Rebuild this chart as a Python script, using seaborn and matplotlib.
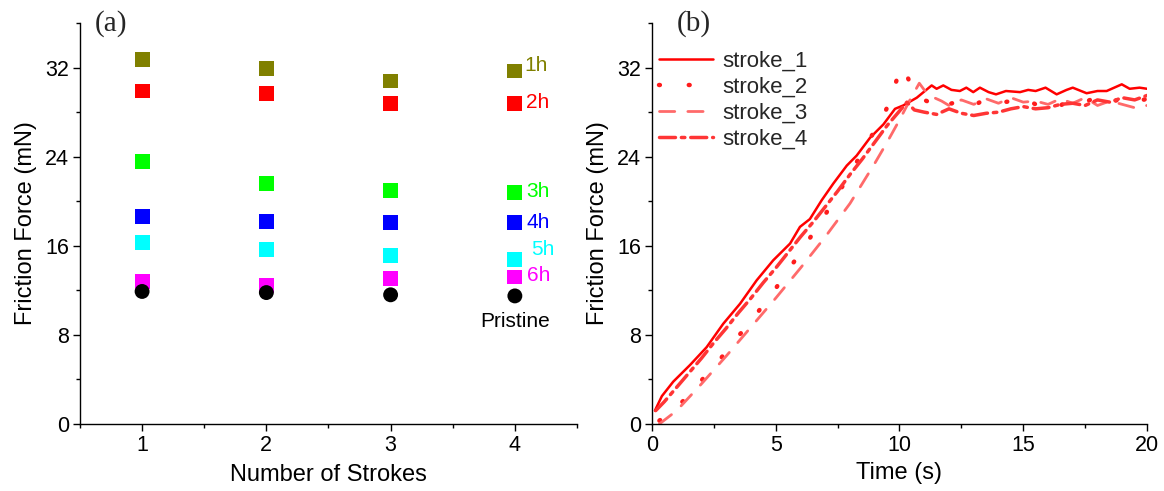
import matplotlib
matplotlib.use("Agg")
import matplotlib.pyplot as plt
from matplotlib.ticker import MultipleLocator
import seaborn as sns
import pandas as pd

# ---------------- Panel (a) data ----------------
strokes = [1, 2, 3, 4]
series_names = ["1h", "2h", "3h", "4h", "5h", "6h", "Pristine"]
force_1h = [32.7, 31.9, 30.8, 31.7]
force_2h = [29.9, 29.7, 28.8, 28.8]
force_3h = [23.6, 21.6, 21.0, 20.8]
force_4h = [18.6, 18.2, 18.1, 18.1]
force_5h = [16.3, 15.7, 15.1, 14.8]
force_6h = [12.8, 12.4, 13.1, 13.2]
force_pristine = [11.9, 11.8, 11.6, 11.5]
force_err = [0.25, 0.25, 0.25, 0.25]
series_colors = ["#808000", "#ff0000", "#00ff00", "#0000ff", "#00ffff", "#ff00ff", "#000000"]

# ---------------- Panel (b) data ----------------
t1 = [0.12, 0.4, 0.86, 1.54, 2.21, 2.88, 3.56, 4.23, 4.9, 5.58, 5.98, 6.38, 6.86, 7.33, 7.87, 8.27,
      8.81, 9.35, 9.82, 10.15, 10.7, 11.3, 11.5, 11.77, 12.1, 12.44, 12.7, 12.98, 13.25, 13.6, 13.9,
      14.3, 14.87, 15.2, 15.5, 15.9, 16.35, 16.75, 17.0, 17.56, 18.0, 18.37, 18.98, 19.3, 19.7, 20.0]
v1 = [1.2, 2.5, 3.8, 5.3, 6.9, 9.0, 10.8, 12.9, 14.7, 16.2, 17.7, 18.4, 20.1, 21.6, 23.2, 24.1,
      25.7, 26.9, 28.3, 28.6, 29.3, 30.4, 30.1, 30.4, 30.0, 29.9, 30.2, 29.8, 30.2, 29.8, 29.6,
      29.9, 29.8, 30.0, 29.9, 30.2, 29.6, 30.0, 30.2, 29.7, 29.9, 29.9, 30.5, 30.1, 30.2, 30.1]
t2 = [0.3, 0.93, 1.6, 2.21, 2.82, 3.42, 4.03, 4.5, 5.04, 5.5, 6.0, 6.5, 7.0, 7.5, 8.0, 8.4, 8.8,
      9.1, 9.4, 9.7, 9.9, 10.1, 10.3, 10.5, 10.8, 11.2, 11.6, 12.0, 12.5, 13.0, 13.5, 14.0, 14.5,
      15.0, 15.5, 16.0, 16.5, 17.0, 17.5, 18.0, 18.5, 19.0, 19.5, 20.0]
v2 = [0.3, 1.4, 2.75, 4.5, 6.0, 7.7, 9.3, 10.7, 12.3, 13.8, 15.4, 17.1, 18.8, 20.6, 22.5, 24.0, 25.6,
      26.7, 27.9, 29.5, 31.0, 30.2, 31.3, 30.2, 29.3, 28.9, 29.4, 28.7, 29.1, 28.6, 29.2, 28.8, 29.0,
      29.3, 28.7, 29.1, 28.6, 29.2, 28.9, 29.4, 28.8, 29.3, 28.9, 29.2]
t3 = [0.3, 1.0, 2.0, 3.0, 4.0, 5.0, 6.0, 7.0, 7.5, 8.0, 8.5, 9.0, 9.5, 10.0, 10.4, 10.8, 11.0, 11.3,
      11.7, 12.0, 12.5, 13.0, 13.5, 14.0, 14.5, 15.0, 15.5, 16.0, 16.5, 17.0, 17.5, 18.0, 18.5, 19.0,
      19.5, 20.0]
v3 = [0.0, 1.2, 3.6, 6.1, 8.7, 11.3, 14.0, 16.8, 18.3, 19.8, 21.6, 23.4, 25.3, 27.3, 29.0, 30.6, 30.0,
      29.4, 29.0, 28.6, 29.1, 28.7, 29.2, 28.8, 29.3, 28.9, 29.0, 28.7, 29.2, 28.8, 29.3, 28.6, 29.0,
      28.7, 28.4, 28.6]
t4 = [0.15, 0.5, 1.0, 1.5, 2.0, 2.5, 3.0, 3.5, 4.0, 4.5, 5.0, 5.5, 6.0, 6.5, 7.0, 7.5, 8.0, 8.5, 9.0,
      9.5, 10.0, 10.3, 10.6, 11.0, 11.5, 12.0, 12.5, 13.0, 13.5, 14.0, 14.5, 15.0, 15.5, 16.0, 16.5,
      17.0, 17.5, 18.0, 18.5, 19.0, 19.5, 20.0]
v4 = [1.2, 2.0, 3.3, 4.6, 5.9, 7.3, 8.6, 10.0, 11.3, 12.7, 14.0, 15.4, 16.8, 18.1, 19.5, 20.9, 22.4,
      23.8, 25.3, 26.8, 28.1, 28.9, 28.2, 28.0, 27.8, 28.3, 27.9, 27.7, 27.9, 28.0, 28.3, 28.5, 28.3,
      28.4, 28.7, 28.8, 28.6, 29.1, 28.9, 29.3, 29.1, 29.5]
stroke_labels = ["stroke_1", "stroke_2", "stroke_3", "stroke_4"]

# ---------------- Style ----------------
sns.set_theme(style="ticks")
plt.rcParams["font.family"] = ["Liberation Sans", "DejaVu Sans"]
plt.rcParams["xtick.direction"] = "out"
plt.rcParams["ytick.direction"] = "out"
TICK_FS = 15.5
LABEL_FS = 17
ANN_FS = 15
LEG_FS = 16
SERIF = ["Liberation Serif", "DejaVu Serif"]

fig = plt.figure(figsize=(11.64, 4.91), dpi=100)
axa = fig.add_axes([0.0687, 0.1365, 0.4270, 0.8165])
axb = fig.add_axes([0.5601, 0.1365, 0.4253, 0.8165])

# ---------------- Panel (a) ----------------
all_forces = [force_1h, force_2h, force_3h, force_4h, force_5h, force_6h, force_pristine]
rows = []
for name, vals in zip(series_names, all_forces):
    for s, v in zip(strokes, vals):
        rows.append({"stroke": s, "force": v, "series": name,
                     "shape": "circle" if name == "Pristine" else "square"})
dfa = pd.DataFrame(rows)

for name, vals, col in zip(series_names, all_forces, series_colors):
    axa.errorbar(strokes, vals, yerr=force_err, fmt="none", ecolor=col, elinewidth=1, capsize=0, zorder=2)

sns.scatterplot(data=dfa, x="stroke", y="force", hue="series", style="shape",
                palette=dict(zip(series_names, series_colors)),
                markers={"square": "s", "circle": "o"}, s=115, linewidth=0,
                legend=False, ax=axa, zorder=3)

label_dy = {"1h": 0.5, "2h": 0.05, "3h": 0.1, "4h": 0.0, "5h": 0.9, "6h": 0.1}
label_dx = {"1h": 0.08, "2h": 0.09, "3h": 0.09, "4h": 0.09, "5h": 0.13, "6h": 0.1}
for name, vals, col in zip(series_names[:-1], all_forces[:-1], series_colors[:-1]):
    axa.text(strokes[-1] + label_dx[name], vals[-1] + label_dy[name], name, color=col,
             fontsize=ANN_FS, va="center", ha="left")
axa.text(strokes[-1], force_pristine[-1] - 2.3, "Pristine", color="black",
         fontsize=ANN_FS, va="center", ha="center")

axa.set_xlim(0.5, 4.5)
axa.set_ylim(0, 36)
axa.xaxis.set_major_locator(MultipleLocator(1))
axa.xaxis.set_minor_locator(MultipleLocator(0.5))
axa.yaxis.set_major_locator(MultipleLocator(8))
axa.yaxis.set_minor_locator(MultipleLocator(4))
axa.set_xlabel("Number of Strokes", fontsize=LABEL_FS, labelpad=6)
axa.set_ylabel("Friction Force (mN)", fontsize=LABEL_FS, labelpad=6)
axa.text(0.062, 1.0, "(a)", transform=axa.transAxes, fontsize=21,
         family=SERIF, ha="center", va="center")

# ---------------- Panel (b) ----------------
styles = [
    dict(color="#ff0000", lw=1.8, ls="-"),
    dict(color="#ff1c1c", lw=3.2, ls=(0, (0.2, 6.5))),
    dict(color="#ff6a6a", lw=2.0, ls=(0, (5.5, 4.7))),
    dict(color="#ff3535", lw=2.5, ls=(0, (4.6, 1.7, 1.0, 1.7))),
]
times = [t1, t2, t3, t4]
vals = [v1, v2, v3, v4]
handles = []
for lab, tt, vv, st in zip(stroke_labels, times, vals, styles):
    d = pd.DataFrame({"t": tt, "v": vv})
    n_before = len(axb.lines)
    sns.lineplot(data=d, x="t", y="v", ax=axb, estimator=None, sort=False,
                 color=st["color"], linewidth=st["lw"], label=lab, legend=False)
    ln = axb.lines[n_before]
    ln.set_linestyle(st["ls"])
    ln.set_dash_capstyle("round")
    ln.set_solid_capstyle("round")
    handles.append(ln)

axb.legend(handles=handles, labels=stroke_labels, loc="upper left", frameon=False,
           fontsize=LEG_FS, handlelength=2.4, handletextpad=0.45, labelspacing=0.22,
           borderaxespad=0.0, borderpad=0.0, bbox_to_anchor=(0.015, 0.93))

axb.set_xlim(0, 20)
axb.set_ylim(0, 36)
axb.xaxis.set_major_locator(MultipleLocator(5))
axb.xaxis.set_minor_locator(MultipleLocator(2.5))
axb.yaxis.set_major_locator(MultipleLocator(8))
axb.yaxis.set_minor_locator(MultipleLocator(4))
axb.set_xlabel("Time (s)", fontsize=LABEL_FS, labelpad=4)
axb.set_ylabel("Friction Force (mN)", fontsize=LABEL_FS, labelpad=6)
axb.text(0.085, 1.0, "(b)", transform=axb.transAxes, fontsize=21,
         family=SERIF, ha="center", va="center")

for ax in (axa, axb):
    sns.despine(ax=ax)
    ax.spines["left"].set_color("black")
    ax.spines["bottom"].set_color("black")
    ax.spines["left"].set_linewidth(1.0)
    ax.spines["bottom"].set_linewidth(1.0)
    ax.tick_params(which="major", length=5, width=1, labelsize=TICK_FS, colors="black", pad=3)
    ax.tick_params(which="minor", length=3, width=1, colors="black")
    ax.xaxis.label.set_color("black")
    ax.yaxis.label.set_color("black")
    ax.set_facecolor("white")
    ax.grid(False)

fig.savefig("out.png", dpi=100, facecolor="white")
